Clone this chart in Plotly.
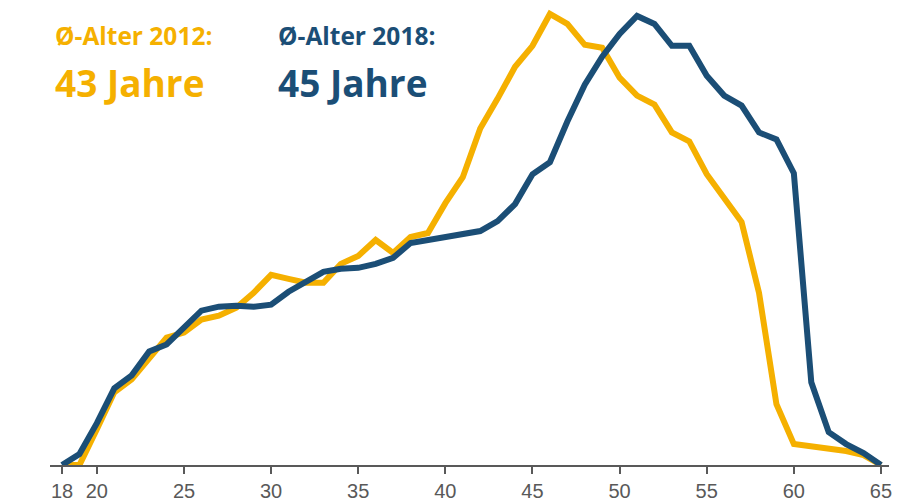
import plotly.graph_objects as go

ages = list(range(18, 66))

values_2012 = [0, 0, 3.6, 7.3, 8.6, 10.6, 12.8, 13.3, 14.6, 15.0,
               15.8, 17.3, 19.1, 18.7, 18.3, 18.3, 20.2, 21.0, 22.6, 21.3,
               22.9, 23.3, 26.3, 28.9, 33.8, 36.8, 40.0, 42.1, 45.3, 44.3,
               42.2, 41.9, 38.9, 37.1, 36.2, 33.4, 32.5, 29.2, 26.7, 24.4,
               17.3, 6.1, 2.1, 1.9, 1.6, 1.4, 1.0, 0]

values_2018 = [0, 1.1, 4.2, 7.7, 9.0, 11.4, 12.1, 13.8, 15.5, 15.9,
               16.0, 15.9, 16.1, 17.4, 18.4, 19.4, 19.7, 19.8, 20.2, 20.8,
               22.3, 22.6, 22.9, 23.2, 23.5, 24.5, 26.2, 29.2, 30.4, 34.5,
               38.2, 41.0, 43.3, 45.1, 44.3, 42.1, 42.1, 39.1, 37.1, 36.1,
               33.4, 32.7, 29.3, 8.3, 3.3, 2.1, 1.2, 0]

tick_vals = [18, 20, 25, 30, 35, 40, 45, 50, 55, 60, 65]
tick_text = [str(v) for v in tick_vals]

label_2012 = "Ø-Alter 2012:"
avg_2012 = "43 Jahre"
label_2018 = "Ø-Alter 2018:"
avg_2018 = "45 Jahre"

ORANGE = "#F5B000"
BLUE = "#1B4E76"

fig = go.Figure()
fig.add_trace(go.Scatter(x=ages, y=values_2012, mode="lines",
                         line=dict(color=ORANGE, width=6), showlegend=False,
                         hoverinfo="skip"))
fig.add_trace(go.Scatter(x=ages, y=values_2018, mode="lines",
                         line=dict(color=BLUE, width=6), showlegend=False,
                         hoverinfo="skip"))

font_main = "'Open Sans', Lato, sans-serif"
PH = 467.0
PW = 839.0
fig.add_annotation(xref="paper", yref="paper", x=(53 - 50) / PW, y=1 - 36 / PH,
                   xanchor="left", yanchor="middle", showarrow=False,
                   text=f"<b>{label_2012}</b>",
                   font=dict(family=font_main, size=24.5, color=ORANGE))
fig.add_annotation(xref="paper", yref="paper", x=(53 - 50) / PW, y=1 - 83 / PH,
                   xanchor="left", yanchor="middle", showarrow=False,
                   text=f"<b>{avg_2012}</b>",
                   font=dict(family=font_main, size=37, color=ORANGE))
fig.add_annotation(xref="paper", yref="paper", x=(276 - 50) / PW, y=1 - 36 / PH,
                   xanchor="left", yanchor="middle", showarrow=False,
                   text=f"<b>{label_2018}</b>",
                   font=dict(family=font_main, size=24.5, color=BLUE))
fig.add_annotation(xref="paper", yref="paper", x=(276 - 50) / PW, y=1 - 83 / PH,
                   xanchor="left", yanchor="middle", showarrow=False,
                   text=f"<b>{avg_2018}</b>",
                   font=dict(family=font_main, size=37, color=BLUE))

fig.update_layout(
    width=903, height=502,
    margin=dict(l=50, r=14, t=0, b=35),
    paper_bgcolor="white", plot_bgcolor="white",
    xaxis=dict(range=[17.31, 65.46], tickmode="array", tickvals=tick_vals,
               ticktext=tick_text, showgrid=False, zeroline=False,
               showline=True, linecolor="#595959", linewidth=2,
               ticks="outside", ticklen=7, tickwidth=2, tickcolor="#595959",
               tickfont=dict(family="'Liberation Sans Narrow', 'Arial Narrow', sans-serif",
                             size=20, color="#595959"), fixedrange=True),
    yaxis=dict(range=[0, 46.7], visible=False, showgrid=False, zeroline=False,
               fixedrange=True),
)

fig.write_html("out.html", config={"displayModeBar": False},
               post_script="document.body.style.margin='0';document.body.style.overflow='hidden';")
